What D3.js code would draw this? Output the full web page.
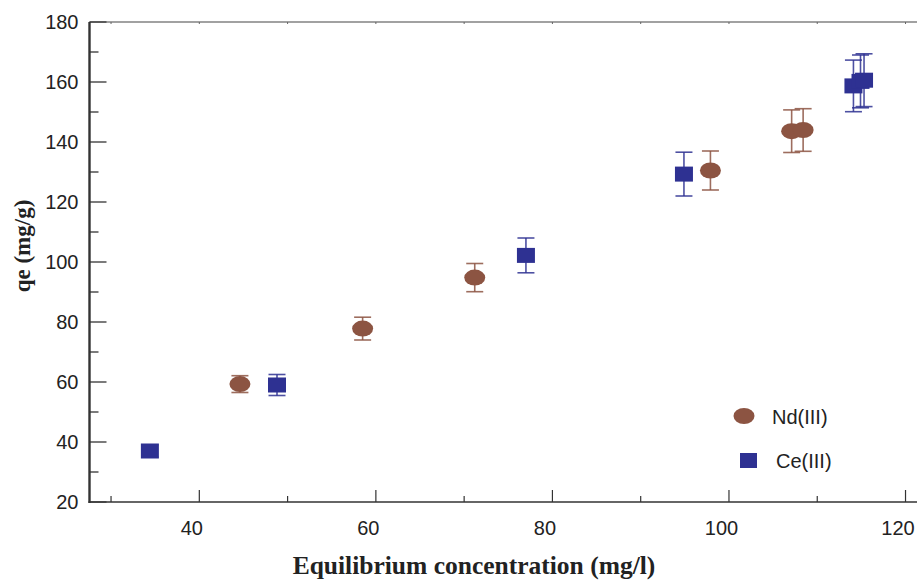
<!DOCTYPE html>
<html>
<head>
<meta charset="utf-8">
<script src="https://cdn.jsdelivr.net/npm/d3@7"></script>
<style>
  html, body { margin: 0; padding: 0; background: #fff; }
  svg { display: block; }
</style>
</head>
<body>
<svg id="chart" width="917" height="581"></svg>
<script>
// ---- data ----
const ndX   = [44.6, 58.5, 71.2, 97.9, 107.1, 108.4];
const ndY   = [59.3, 77.8, 94.8, 130.5, 143.6, 144.0];
const ndErr = [2.8, 3.8, 4.7, 6.5, 7.1, 7.1];

const ceX   = [34.4, 48.8, 77.0, 94.9, 114.1, 114.9, 115.3];
const ceY   = [37.0, 59.0, 102.2, 129.3, 158.7, 160.2, 160.6];
const ceErr = [2.0, 3.5, 5.8, 7.3, 8.6, 8.8, 8.8];

const xTicks = [40, 60, 80, 100, 120];
const xMinor = [30, 50, 70, 90, 110];
const yTicks = [20, 40, 60, 80, 100, 120, 140, 160, 180];
const yMinor = [30, 50, 70, 90, 110, 130, 150, 170];

const seriesNames = ["Nd(III)", "Ce(III)"];
const ndColor = "#8c5442";
const ceColor = "#2e3192";

// ---- scales ----
const svg = d3.select("#chart");
const x = d3.scaleLinear().domain([27.56, 121.3]).range([89.5, 917]);
const y = d3.scaleLinear().domain([20, 180]).range([502, 22]);

const axisColor = "#333";
const tickFont = "'Liberation Sans', Arial, sans-serif";
const titleFont = "'Liberation Serif', 'Times New Roman', serif";

// top frame line with tiny ticks
svg.append("line").attr("x1", 89.5).attr("x2", 917).attr("y1", y(180)).attr("y2", y(180))
  .attr("stroke", "#444").attr("stroke-width", 1.2);
svg.append("g").selectAll("line").data(xTicks.concat(xMinor)).join("line")
  .attr("x1", d => x(d)).attr("x2", d => x(d)).attr("y1", y(180)).attr("y2", y(180) + 2)
  .attr("stroke", "#666").attr("stroke-width", 1);

// bottom axis
const gx = svg.append("g").attr("transform", `translate(0,${y(20)})`);
gx.append("line").attr("x1", 88.5).attr("x2", 917).attr("stroke", axisColor).attr("stroke-width", 1.6);
gx.selectAll(".maj").data(xTicks).join("line").attr("class", "maj")
  .attr("x1", d => x(d)).attr("x2", d => x(d)).attr("y1", 0).attr("y2", -12)
  .attr("stroke", axisColor).attr("stroke-width", 1.2);
gx.selectAll(".min").data(xMinor).join("line").attr("class", "min")
  .attr("x1", d => x(d)).attr("x2", d => x(d)).attr("y1", 0).attr("y2", -6)
  .attr("stroke", axisColor).attr("stroke-width", 1.2);
gx.selectAll("text").data(xTicks).join("text")
  .attr("x", d => x(d) - 7.5).attr("y", 33).attr("text-anchor", "middle")
  .attr("font-family", tickFont).attr("font-size", 20).attr("fill", "#222")
  .text(d => d);

// left axis
const gy = svg.append("g").attr("transform", `translate(89.5,0)`);
gy.append("line").attr("y1", y(180)).attr("y2", y(20) + 1).attr("stroke", axisColor).attr("stroke-width", 2.4);
gy.selectAll(".maj").data(yTicks).join("line").attr("class", "maj")
  .attr("x1", 0).attr("x2", 17).attr("y1", d => y(d)).attr("y2", d => y(d))
  .attr("stroke", axisColor).attr("stroke-width", 1.3);
gy.selectAll(".min").data(yMinor).join("line").attr("class", "min")
  .attr("x1", 0).attr("x2", 9).attr("y1", d => y(d)).attr("y2", d => y(d))
  .attr("stroke", axisColor).attr("stroke-width", 1.3);
gy.selectAll("text").data(yTicks).join("text")
  .attr("x", -11).attr("y", d => y(d)).attr("dy", "0.36em").attr("text-anchor", "end")
  .attr("font-family", tickFont).attr("font-size", 20).attr("fill", "#222")
  .text(d => d);

// axis titles
svg.append("text").attr("x", 474).attr("y", 574).attr("text-anchor", "middle")
  .attr("font-family", titleFont).attr("font-weight", "bold")
  .attr("font-size", 25.5).attr("fill", "#222").text("Equilibrium concentration (mg/l)");
svg.append("text").attr("transform", "translate(30,246) rotate(-90)").attr("text-anchor", "middle")
  .attr("font-family", titleFont).attr("font-weight", "bold")
  .attr("font-size", 23).attr("fill", "#222").text("qe (mg/g)");

// error bars
function errorBars(xs, ys, es, color) {
  const g = svg.append("g").attr("stroke", color).attr("stroke-width", 1.6).attr("stroke-opacity", 0.85);
  const data = xs.map((d, i) => ({x: d, y: ys[i], e: es[i]}));
  g.selectAll(".v").data(data).join("line").attr("class", "v")
    .attr("x1", d => x(d.x)).attr("x2", d => x(d.x))
    .attr("y1", d => y(d.y + d.e)).attr("y2", d => y(d.y - d.e));
  g.selectAll(".t").data(data).join("line").attr("class", "t")
    .attr("x1", d => x(d.x) - 8.5).attr("x2", d => x(d.x) + 8.5)
    .attr("y1", d => y(d.y + d.e)).attr("y2", d => y(d.y + d.e));
  g.selectAll(".b").data(data).join("line").attr("class", "b")
    .attr("x1", d => x(d.x) - 8.5).attr("x2", d => x(d.x) + 8.5)
    .attr("y1", d => y(d.y - d.e)).attr("y2", d => y(d.y - d.e));
}
errorBars(ndX, ndY, ndErr, ndColor);
errorBars(ceX, ceY, ceErr, ceColor);

// markers
svg.append("g").selectAll("ellipse").data(ndX.map((d, i) => [d, ndY[i]])).join("ellipse")
  .attr("cx", d => x(d[0])).attr("cy", d => y(d[1])).attr("rx", 10.5).attr("ry", 8)
  .attr("fill", ndColor);
svg.append("g").selectAll("rect").data(ceX.map((d, i) => [d, ceY[i]])).join("rect")
  .attr("x", d => x(d[0]) - 9).attr("y", d => y(d[1]) - 7.5).attr("width", 18).attr("height", 15)
  .attr("fill", ceColor);

// legend
const lg = svg.append("g");
lg.append("ellipse").attr("cx", 744).attr("cy", 416).attr("rx", 10.5).attr("ry", 8).attr("fill", ndColor);
lg.append("text").attr("x", 772).attr("y", 424).attr("font-family", tickFont).attr("font-size", 20)
  .attr("fill", "#222").text(seriesNames[0]);
lg.append("rect").attr("x", 740).attr("y", 453).attr("width", 17).attr("height", 15).attr("fill", ceColor);
lg.append("text").attr("x", 776).attr("y", 468).attr("font-family", tickFont).attr("font-size", 20)
  .attr("fill", "#222").text(seriesNames[1]);
</script>
</body>
</html>
